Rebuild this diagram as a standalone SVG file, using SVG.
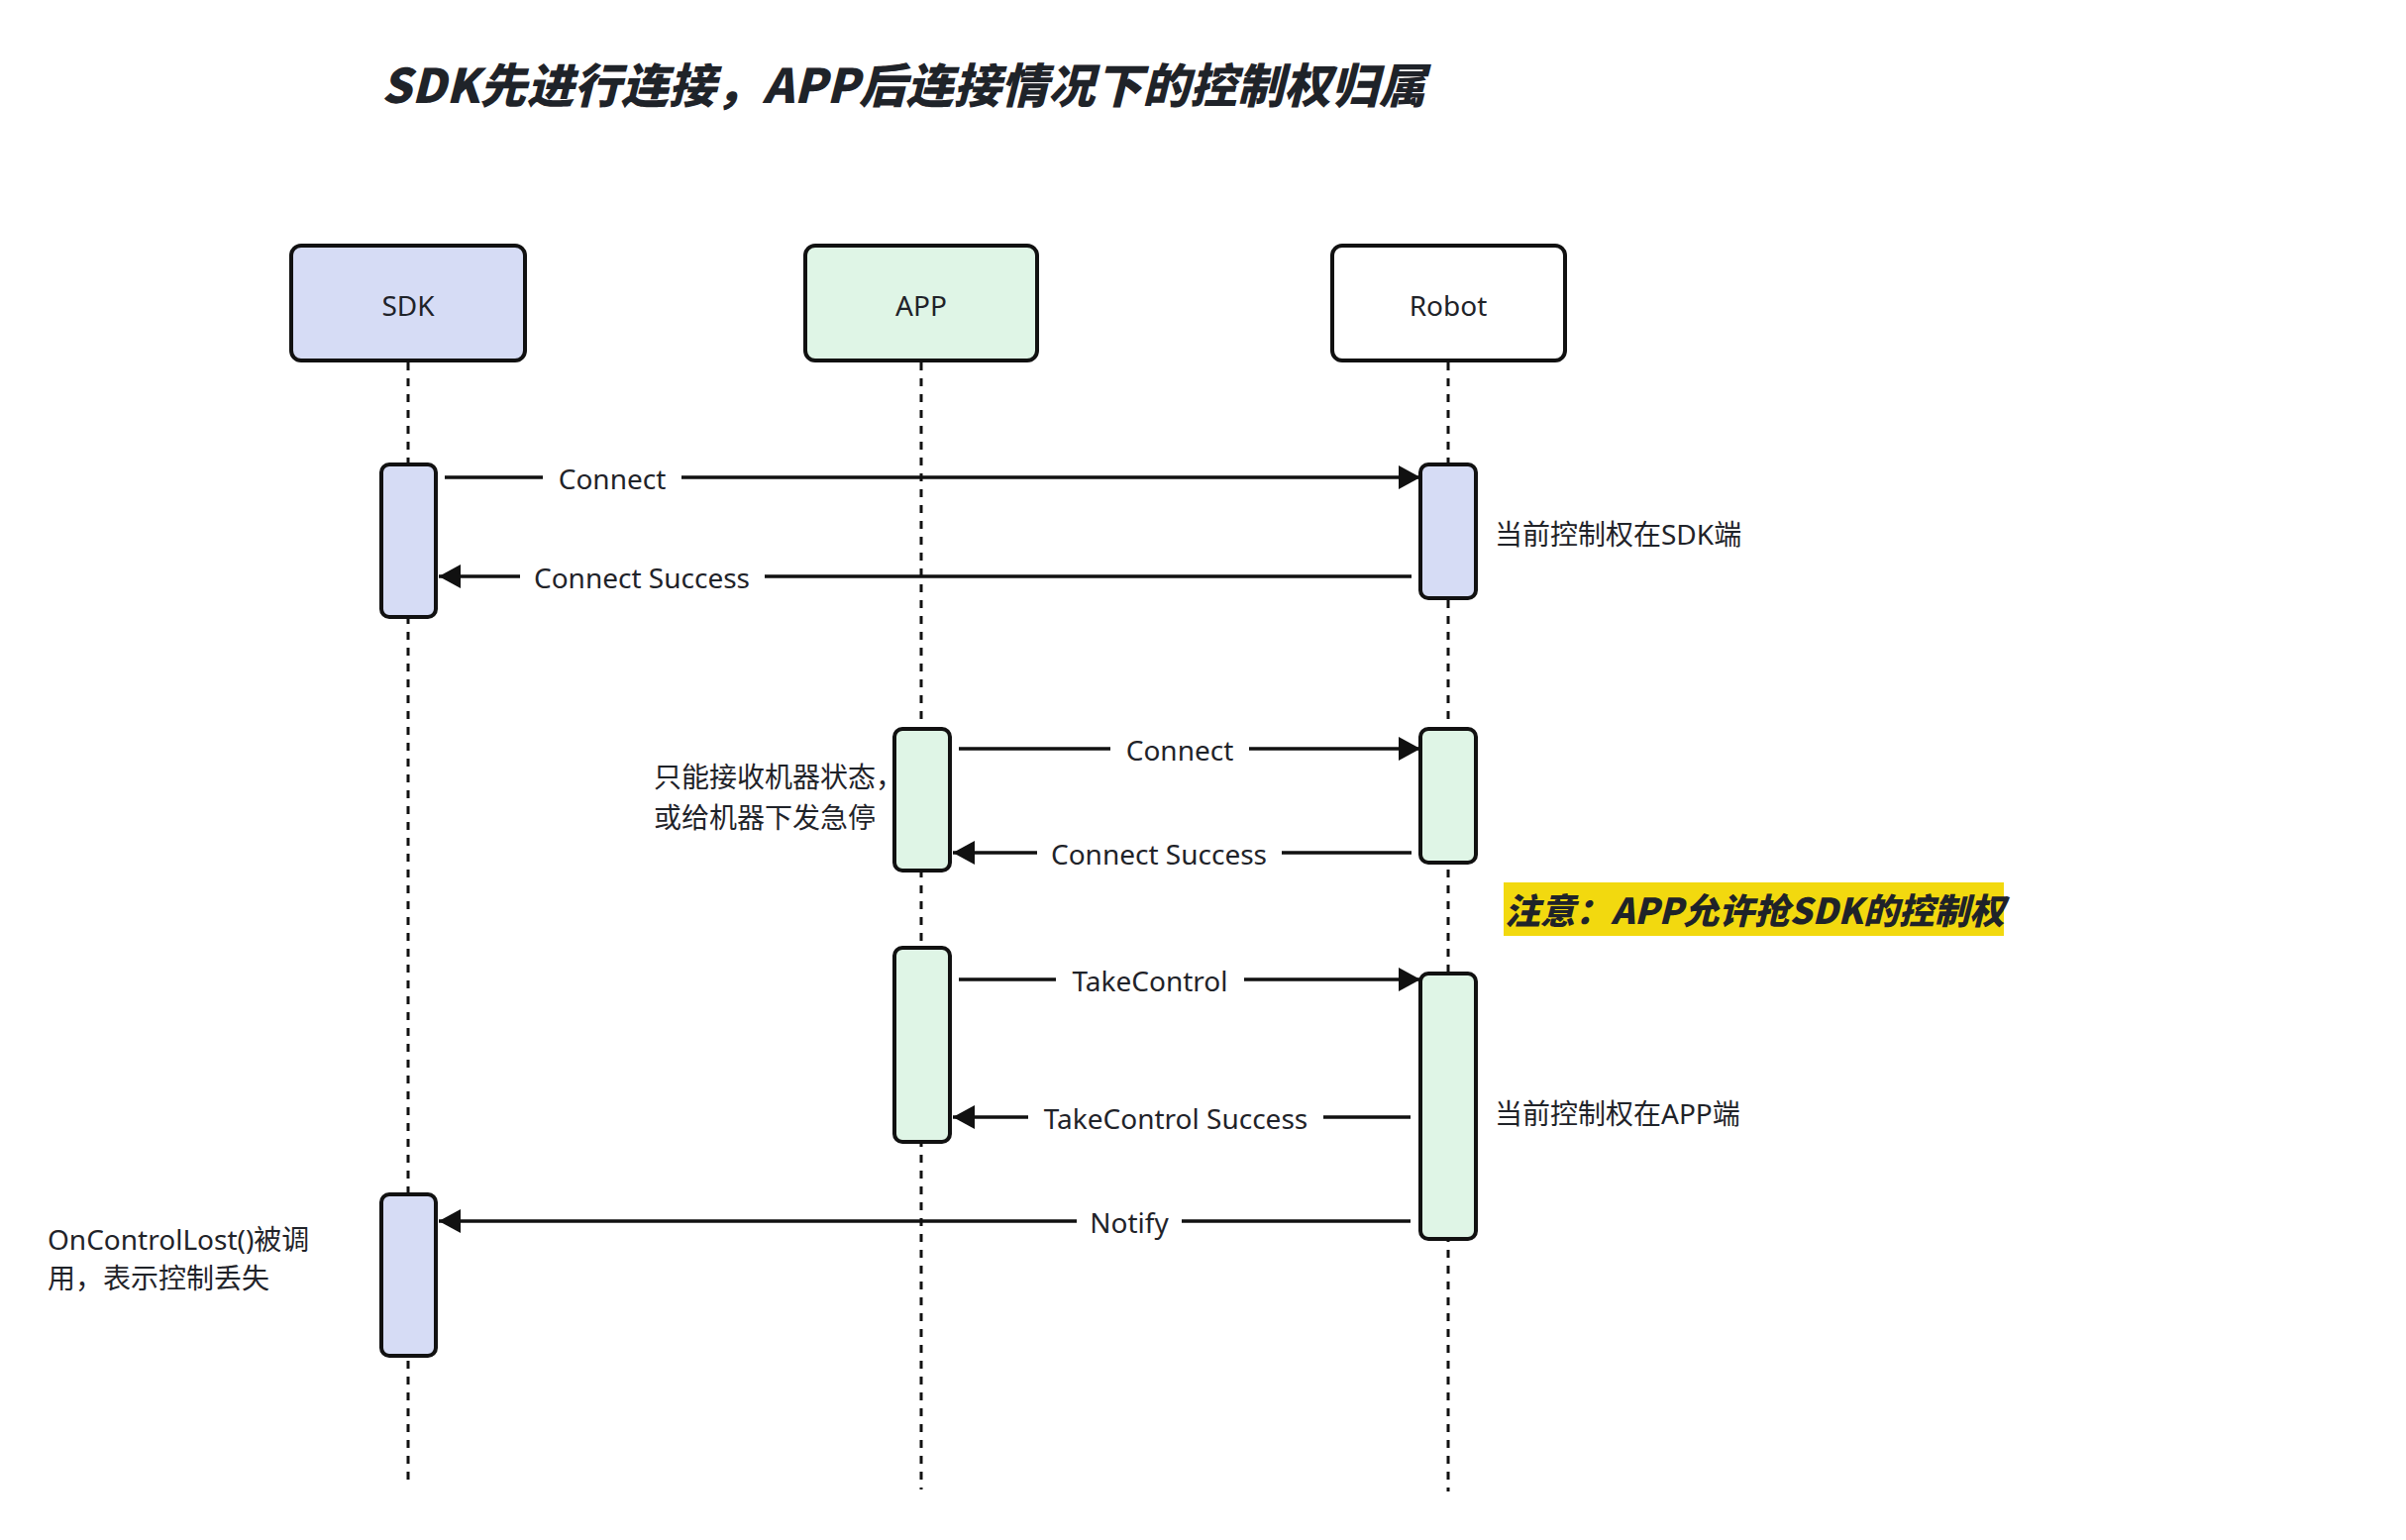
<svg xmlns="http://www.w3.org/2000/svg" width="2429" height="1555" viewBox="0 0 2429 1555">
<defs>
<style>
.box{stroke:#111;stroke-width:4}
.sdk{fill:#d6dcf5}
.app{fill:#dff5e6}
.rob{fill:#fff}
.life{stroke:#111;stroke-width:3;stroke-dasharray:8 8;fill:none}
.bar{stroke:#111;stroke-width:4}
.msg{stroke:#111;stroke-width:3.5;fill:none}
.t{font-family:"Noto Sans","Noto Sans CJK SC",sans-serif;font-size:28px;fill:#1f2329}
.c{text-anchor:middle}
.title{font-family:"Noto Sans CJK SC","Noto Sans",sans-serif;font-size:47.7px;font-weight:900;font-style:italic;fill:#1f2329}
.warn{font-family:"Noto Sans CJK SC","Noto Sans",sans-serif;font-size:35.8px;font-weight:900;font-style:italic;fill:#1f2329}
.bg{fill:#fff}
</style>
<marker id="ah" markerUnits="userSpaceOnUse" markerWidth="22" markerHeight="24" refX="22" refY="12" orient="auto">
<path d="M0,0 L22,12 L0,24 Z" fill="#111"/>
</marker>
</defs>
<rect x="0" y="0" width="2429" height="1555" fill="#fff"/>
<text class="title" x="385" y="104">SDK先进行连接，APP后连接情况下的控制权归属</text>

<g id="lifelines">
<line class="life" x1="412" y1="366" x2="412" y2="1495"/>
<line class="life" x1="930" y1="366" x2="930" y2="1504"/>
<line class="life" x1="1462" y1="366" x2="1462" y2="1506"/>
</g>

<g id="node-sdk">
<rect class="box sdk" x="294" y="248" width="236" height="116" rx="10"/>
<text class="t c" x="412" y="319">SDK</text>
</g>
<g id="node-app">
<rect class="box app" x="813" y="248" width="234" height="116" rx="10"/>
<text class="t c" x="930" y="319">APP</text>
</g>
<g id="node-robot">
<rect class="box rob" x="1345" y="248" width="235" height="116" rx="10"/>
<text class="t c" x="1462" y="319">Robot</text>
</g>

<g id="activations">
<rect class="bar sdk" x="385" y="469" width="55" height="154" rx="8"/>
<rect class="bar sdk" x="1434" y="469" width="56" height="135" rx="8"/>
<rect class="bar app" x="903" y="736" width="56" height="143" rx="8"/>
<rect class="bar app" x="1434" y="736" width="56" height="135" rx="8"/>
<rect class="bar app" x="903" y="957" width="56" height="196" rx="8"/>
<rect class="bar app" x="1434" y="983" width="56" height="268" rx="8"/>
<rect class="bar sdk" x="385" y="1206" width="55" height="163" rx="8"/>
</g>

<g id="connectors">
<line class="msg" x1="449" y1="482" x2="1434" y2="482" marker-end="url(#ah)"/>
<rect class="bg" x="548" y="462" width="140" height="40"/>
<text class="t c" x="618" y="494">Connect</text>

<line class="msg" x1="1425" y1="582" x2="443" y2="582" marker-end="url(#ah)"/>
<rect class="bg" x="525" y="562" width="247" height="40"/>
<text class="t c" x="648" y="594">Connect Success</text>

<line class="msg" x1="968" y1="756" x2="1434" y2="756" marker-end="url(#ah)"/>
<rect class="bg" x="1121" y="736" width="140" height="40"/>
<text class="t c" x="1191" y="768">Connect</text>

<line class="msg" x1="1425" y1="861" x2="962" y2="861" marker-end="url(#ah)"/>
<rect class="bg" x="1047" y="841" width="247" height="40"/>
<text class="t c" x="1170" y="873">Connect Success</text>

<line class="msg" x1="968" y1="989" x2="1434" y2="989" marker-end="url(#ah)"/>
<rect class="bg" x="1066" y="969" width="190" height="40"/>
<text class="t c" x="1161" y="1001">TakeControl</text>

<line class="msg" x1="1424" y1="1128" x2="962" y2="1128" marker-end="url(#ah)"/>
<rect class="bg" x="1038" y="1108" width="298" height="40"/>
<text class="t c" x="1187" y="1140">TakeControl Success</text>

<line class="msg" x1="1424" y1="1233" x2="443" y2="1233" marker-end="url(#ah)"/>
<rect class="bg" x="1087" y="1213" width="106" height="40"/>
<text class="t c" x="1140" y="1245">Notify</text>
</g>

<g id="notes">
<text class="t" x="1509" y="550">当前控制权在SDK端</text>
<text class="t" x="1509" y="1135">当前控制权在APP端</text>
<text class="t" x="660" y="795">只能接收机器状态，</text>
<text class="t" x="660" y="836">或给机器下发急停</text>
<text class="t" x="48" y="1262">OnControlLost()被调</text>
<text class="t" x="48" y="1301">用，表示控制丢失</text>
</g>

<g id="warning">
<rect x="1518" y="891" width="505" height="54" fill="#f2d90f"/>
<text class="warn" x="1519" y="933">注意：APP允许抢SDK的控制权</text>
</g>
</svg>
